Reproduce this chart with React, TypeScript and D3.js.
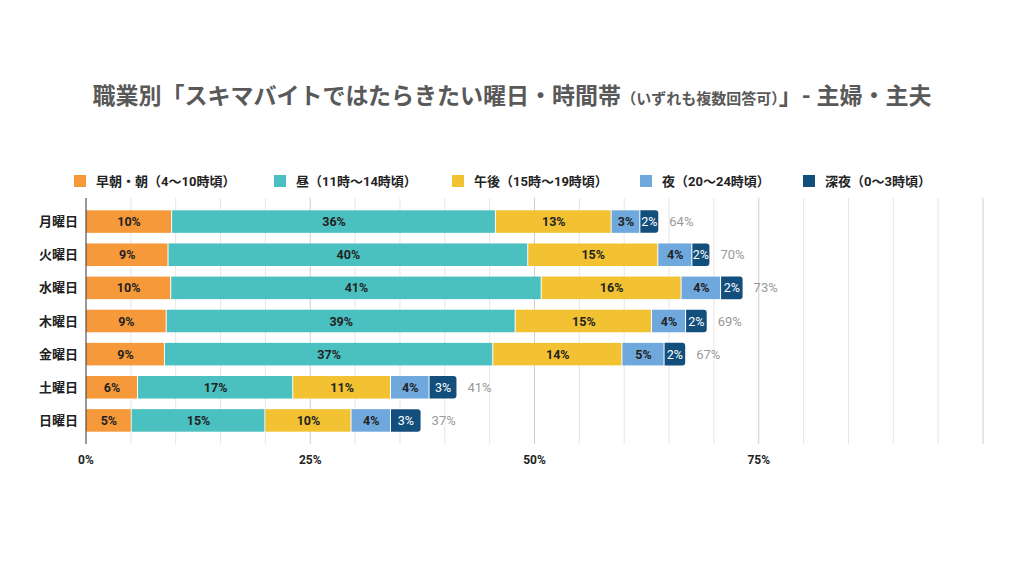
import * as d3 from "d3";

const DAYS = ["月曜日", "火曜日", "水曜日", "木曜日", "金曜日", "土曜日", "日曜日"];
const SERIES = ["早朝・朝（4〜10時頃）", "昼（11時〜14時頃）", "午後（15時〜19時頃）", "夜（20〜24時頃）", "深夜（0〜3時頃）"];
const COLORS = ["#f6993a", "#4bc0c0", "#f2c232", "#6fa8dc", "#134f7c"];
// actual shares (%) per day, per series
const VALUES = [
    [9.6, 36.1, 12.9, 3.2, 2.0],
    [9.2, 40.1, 14.5, 3.8, 1.9],
    [9.5, 41.3, 15.6, 4.4, 2.4],
    [9.0, 38.9, 15.2, 3.8, 2.3],
    [8.8, 36.6, 14.4, 4.7, 2.3],
    [5.8, 17.3, 10.9, 4.3, 3.0],
    [5.1, 14.9, 9.6, 4.4, 3.3],
];
const TOTALS = ["64%", "70%", "73%", "69%", "67%", "41%", "37%"];
const TICKS = [0, 25, 50, 75];
const LEGEND_X = [74, 274, 452, 640, 803];

const FONT = "Roboto, 'Noto Sans CJK JP', sans-serif";

export default function App() {
    const width = 1024;
    const height = 576;
    const x = d3.scaleLinear().domain([0, 100]).range([86, 983]);
    const y = d3.scaleBand().domain(DAYS).range([205, 437]).paddingInner(0.32).paddingOuter(0.16);
    const grid = d3.range(5, 101, 5);

    return (
        <svg width={width} height={height} style={{ position: "absolute", left: 0, top: 0, background: "#fff" }} fontFamily={FONT}>
            <text x={512} y={104} textAnchor="middle" fontSize={23} fontWeight="bold" fill="#595959">
                職業別「スキマバイトではたらきたい曜日・時間帯<tspan fontSize={15}>（いずれも複数回答可）</tspan>」- 主婦・主夫
            </text>
            {SERIES.map((s, i) => (
                <g key={s}>
                    <rect x={LEGEND_X[i]} y={175} width={12} height={12} fill={COLORS[i]} />
                    <text x={LEGEND_X[i] + 22} y={186} fontSize={13} fontWeight="bold" fill="#222">{s}</text>
                </g>
            ))}
            {grid.map((g) => (
                <line key={g} x1={x(g)} x2={x(g)} y1={198} y2={444} stroke={g % 25 === 0 ? "#cfcfcf" : "#e6e6e6"} />
            ))}
            {DAYS.map((d, di) => {
                const stack = d3.cumsum(VALUES[di]);
                const y0 = y(d)!;
                const bh = y.bandwidth();
                return (
                    <g key={d}>
                        <text x={78} y={y0 + bh / 2 + 4.5} textAnchor="end" fontSize={13} fontWeight="bold" fill="#222">{d}</text>
                        {VALUES[di].map((v, si) => {
                            const x0 = x(stack[si] - v);
                            const x1 = x(stack[si]);
                            const last = si === VALUES[di].length - 1;
                            return (
                                <g key={si}>
                                    {last ? (
                                        <path
                                            d={`M${x0},${y0}H${x1 - 3}Q${x1},${y0} ${x1},${y0 + 3}V${y0 + bh - 3}Q${x1},${y0 + bh} ${x1 - 3},${y0 + bh}H${x0}Z`}
                                            fill={COLORS[si]}
                                        />
                                    ) : (
                                        <rect x={x0} y={y0} width={x1 - x0 - 1} height={bh} fill={COLORS[si]} />
                                    )}
                                    <text
                                        x={(x0 + x1) / 2}
                                        y={y0 + bh / 2 + 4.5}
                                        textAnchor="middle"
                                        fontSize={12.5}
                                        fontWeight={last ? "normal" : "bold"}
                                        fill={last ? "#fff" : "#222"}
                                    >
                                        {Math.round(v)}%
                                    </text>
                                </g>
                            );
                        })}
                        <text x={x(stack[4]) + 11} y={y0 + bh / 2 + 4.5} fontSize={13} fill="#999">{TOTALS[di]}</text>
                    </g>
                );
            })}
            <line x1={x(0)} x2={x(0)} y1={198} y2={444} stroke="#333" />
            {TICKS.map((t) => (
                <text key={t} x={x(t)} y={464} textAnchor="middle" fontSize={12} fontWeight="bold" fill="#222">{t}%</text>
            ))}
        </svg>
    );
}
